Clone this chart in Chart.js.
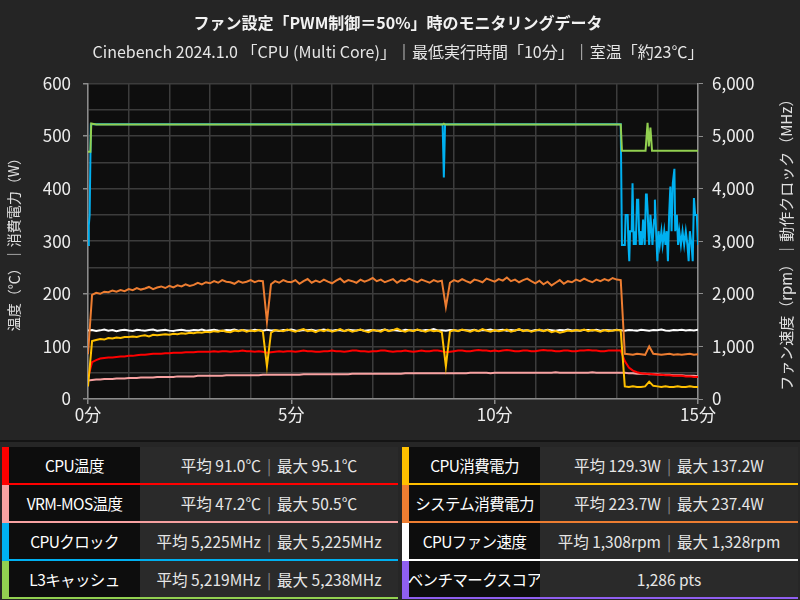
<!DOCTYPE html>
<html lang="ja">
<head>
<meta charset="utf-8">
<title>ファン設定「PWM制御＝50%」時のモニタリングデータ</title>
<script src="https://cdn.jsdelivr.net/npm/chart.js@4.4.1/dist/chart.umd.min.js"></script>
<style>
  html, body { margin: 0; padding: 0; background: #252525; }
  body { width: 800px; height: 600px; overflow: hidden; font-family: "Noto Sans CJK JP", "Noto Sans", sans-serif; }
  #chartBox { position: relative; width: 800px; height: 440px; }
  #stats { display: flex; width: 800px; height: 160px; box-sizing: border-box; border-top: 2px solid #141414; padding-top: 5px; background: #262626; }
  .col { width: 396px; margin-left: 2px; }
  .col + .col { margin-left: 4px; }
  .row { display: flex; height: 36px; border-left: 7px solid; border-bottom: 2px solid; }
  .name { width: 131px; background: #0d0d0d; color: #fff; font-size: 15.5px; letter-spacing: -0.6px; white-space: nowrap; display: flex; align-items: center; justify-content: center; }
  .value { flex: 1; background: #2a2a2a; color: #e6e6e6; font-size: 15.5px; white-space: nowrap; display: flex; align-items: center; justify-content: center; }
  .sep { color: #8a8a8a; margin: 0 6px; }
</style>
</head>
<body>
<div id="chartBox"><canvas id="monitorChart"></canvas></div>
<div id="stats"></div>
<script>
const chartTitle = "ファン設定「PWM制御＝50%」時のモニタリングデータ";
const chartSubtitle = "Cinebench 2024.1.0 「CPU (Multi Core)」｜最低実行時間「10分」｜室温「約23℃」";
const leftAxisTitle = "温度（℃）｜消費電力（W）";
const rightAxisTitle = "ファン速度（rpm）｜動作クロック（MHz）";

// log sampled every 0.1 min, 0 - 15 min
const sampleStepMin = 0.1;
const minutes = Array.from({ length: 151 }, (_, i) => +(i * sampleStepMin).toFixed(1));

const cpuTemp = [
  40, 70, 74, 77, 78, 79, 79, 80, 81, 81,
  82, 82, 83, 84, 84, 85, 86, 86, 86, 87,
  87, 88, 88, 88, 89, 89, 89, 90, 90, 90,
  90, 91, 90, 91, 91, 90, 91, 91, 92, 91,
  91, 90, 91, 90, 88, 89, 90, 91, 90, 91,
  91, 90, 91, 92, 91, 91, 90, 90, 91, 91,
  92, 91, 91, 90, 91, 92, 92, 91, 91, 90,
  91, 91, 92, 92, 91, 90, 91, 91, 92, 91,
  90, 91, 92, 91, 91, 92, 92, 91, 89, 90,
  91, 92, 92, 91, 91, 92, 93, 92, 92, 91,
  92, 91, 92, 93, 92, 91, 91, 92, 92, 91,
  91, 92, 93, 92, 92, 91, 91, 92, 92, 91,
  91, 92, 92, 93, 92, 92, 91, 91, 92, 92,
  92, 92, 72, 60, 54, 51, 49, 48, 48, 47,
  46, 46, 45, 45, 44, 44, 44, 43, 43, 42, 42
];

const vrmTemp = [
  35, 36, 37, 37, 38, 38, 38, 39, 39, 39,
  40, 40, 40, 41, 41, 41, 41, 42, 42, 42,
  42, 42, 43, 43, 43, 43, 43, 44, 44, 44,
  44, 44, 44, 44, 45, 45, 45, 45, 45, 45,
  45, 45, 45, 46, 46, 46, 46, 46, 46, 46,
  46, 46, 46, 47, 47, 47, 47, 47, 47, 47,
  47, 47, 47, 47, 47, 48, 48, 48, 48, 48,
  48, 48, 48, 48, 48, 48, 48, 48, 49, 49,
  49, 49, 49, 49, 49, 49, 49, 49, 49, 49,
  49, 49, 49, 49, 50, 50, 50, 50, 50, 49,
  50, 50, 50, 50, 50, 50, 50, 50, 50, 50,
  50, 50, 50, 50, 50, 51, 50, 50, 50, 50,
  50, 50, 50, 50, 51, 50, 50, 50, 50, 50,
  50, 50, 50, 49, 49, 48, 48, 48, 47, 47,
  47, 46, 46, 46, 45, 45, 45, 44, 44, 44, 43
];

const cpuPower = [
  24, 110, 112, 114, 113, 116, 115, 117, 116, 118,
  118, 119, 118, 120, 121, 119, 122, 121, 122, 123,
  122, 124, 123, 125, 124, 126, 125, 127, 126, 128,
  127, 129, 128, 130, 128, 127, 130, 129, 131, 128,
  130, 129, 131, 128, 62, 126, 131, 130, 129, 132,
  130, 128, 131, 133, 129, 130, 127, 131, 129, 132,
  128, 130, 133, 129, 131, 128, 130, 132, 129, 127,
  131, 130, 128, 132, 129, 131, 134, 130, 128, 131,
  129, 132, 130, 128, 131, 129, 130, 127, 62, 128,
  131, 129, 132, 130, 128, 131, 129, 133, 130, 128,
  131, 129, 130, 132, 128, 130, 133, 129, 131, 128,
  130, 132, 129, 131, 127, 129, 126, 128, 130, 129,
  131, 130, 132, 129, 131, 130, 128, 131, 129, 130,
  131, 130, 24, 23, 24, 23, 23, 24, 33, 25,
  24, 23, 24, 23, 23, 24, 23, 23, 24, 23, 23
];

const systemPower = [
  85, 198, 202, 200, 204, 203, 206, 204, 207, 205,
  209, 207, 211, 208, 210, 213, 209, 212, 214, 211,
  215, 212, 216, 214, 218, 215, 217, 221, 218, 222,
  220, 224, 221, 226, 223, 222, 219, 224, 221, 223,
  226, 222, 225, 224, 147, 218, 224, 221, 226, 223,
  222, 226, 219, 224, 228, 221, 225, 222, 227, 223,
  220, 225, 229, 222, 226, 224, 221, 227, 223, 226,
  230, 224, 227, 222, 225, 228, 221, 226, 224, 229,
  225, 222, 227, 224, 221, 226, 223, 225, 175, 221,
  226, 223, 228, 224, 221, 227, 225, 222, 229, 226,
  223, 228, 225, 231, 224, 227, 222, 226, 229, 224,
  220, 225, 218, 223, 216, 221, 226, 219, 224, 222,
  227, 224, 229, 225, 222, 227, 224, 228, 225, 230,
  227, 226, 86, 85, 84, 86, 85, 84, 100, 86,
  85, 84, 85, 86, 84, 85, 84, 85, 86, 84, 85
];

const fanRpm = [
  1300, 1310, 1295, 1305, 1320, 1298, 1312, 1290, 1308, 1316,
  1302, 1295, 1318, 1306, 1299, 1311, 1322, 1297, 1305, 1314,
  1300, 1292, 1309, 1317, 1303, 1296, 1313, 1305, 1320, 1298,
  1308, 1315, 1301, 1294, 1311, 1306, 1323, 1299, 1310, 1304,
  1296, 1314, 1307, 1300, 1318, 1302, 1309, 1293, 1312, 1305,
  1319, 1301, 1297, 1310, 1306, 1315, 1298, 1308, 1321, 1303,
  1300, 1311, 1305, 1295, 1316, 1309, 1302, 1318, 1297, 1307,
  1313, 1300, 1306, 1320, 1299, 1310, 1304, 1295, 1315, 1308,
  1302, 1317, 1298, 1311, 1306, 1328, 1301, 1309, 1296, 1312,
  1305, 1299, 1314, 1308, 1302, 1318, 1295, 1310, 1306, 1321,
  1300, 1309, 1315, 1297, 1311, 1304, 1319, 1302, 1308, 1295,
  1313, 1306, 1300, 1317, 1309, 1298, 1312, 1305, 1320, 1303,
  1307, 1296, 1314, 1310, 1301, 1316, 1299, 1311, 1306, 1302,
  1318, 1308, 1297, 1313, 1305, 1300, 1316, 1309, 1298, 1312,
  1306, 1320, 1303, 1299, 1311, 1307, 1315, 1301, 1310, 1304, 1317
];

// clock series are flat most of the time, so they keep their own time stamps
const cpuClockMin = [
  0, 0.02, 0.04, 0.07, 8.72, 8.75, 8.78, 13.1, 13.13,
  13.2, 13.22, 13.27, 13.29, 13.31, 13.33, 13.37, 13.39, 13.42, 13.44,
  13.47, 13.5, 13.53, 13.55, 13.57, 13.6, 13.62, 13.65, 13.69, 13.72,
  13.74, 13.76, 13.78, 13.8, 13.83, 13.86, 13.88, 13.92, 13.94, 13.97,
  14.0, 14.03, 14.06, 14.1, 14.13, 14.17, 14.2, 14.23, 14.26, 14.29,
  14.32, 14.35, 14.38, 14.42, 14.44, 14.48, 14.51, 14.54, 14.58, 14.62,
  14.66, 14.7, 14.74, 14.77, 14.8, 14.84, 14.87, 14.9, 14.93, 14.97, 15
];
const cpuClockMHz = [
  2930, 3300, 3500, 5225, 5225, 4210, 5225, 5225, 2930,
  2930, 3500, 3500, 2930, 2620, 3190, 3190, 4100, 2930, 3190,
  2930, 3790, 3790, 3190, 2930, 3190, 2930, 3410, 2930, 3890,
  3890, 3600, 3190, 2930, 3500, 3190, 2930, 3410, 3790, 3190,
  2620, 3190, 2930, 3190, 2930, 3190, 2930, 3190, 2620, 3500,
  4040, 3190, 4100, 4375, 3190, 3500, 2930, 3190, 2930, 3190,
  2930, 3190, 2930, 2620, 3190, 2930, 2620, 3820, 3500, 3500, 2930
];

const l3Min = [0, 0.06, 0.08, 0.2, 8.72, 8.75, 8.78, 13.1, 13.13, 13.71, 13.76, 13.79, 13.83, 13.87, 15];
const l3MHz = [4700, 4700, 5238, 5219, 5219, 5235, 5219, 5219, 4720, 4720, 5250, 4800, 5160, 4720, 4720];

const seriesNames = ["CPU温度", "VRM-MOS温度", "CPUクロック", "L3キャッシュ", "CPU消費電力", "システム消費電力", "CPUファン速度", "ベンチマークスコア"];
const seriesColors = ["#ff0000", "#f7a1a1", "#00b0f0", "#92d050", "#ffc000", "#ed7d31", "#ffffff", "#8f5ff0"];
const statAvg = ["91.0℃", "47.2℃", "5,225MHz", "5,219MHz", "129.3W", "223.7W", "1,308rpm"];
const statMax = ["95.1℃", "50.5℃", "5,225MHz", "5,238MHz", "137.2W", "237.4W", "1,328rpm"];
const benchmarkScore = "1,286 pts";

const fontFamily = '"Noto Sans CJK JP", "Noto Sans", sans-serif';
Chart.defaults.font.family = fontFamily;
Chart.defaults.color = "#ececec";

function onGrid(values) {
  return minutes.map((m, i) => ({ x: m, y: values[i] }));
}
function paired(times, values) {
  return times.map((m, i) => ({ x: m, y: values[i] }));
}

const plotBackground = {
  id: "plotBackground",
  beforeDraw(chart) {
    const { ctx, chartArea } = chart;
    ctx.save();
    ctx.fillStyle = "#0e0e0e";
    ctx.fillRect(chartArea.left, chartArea.top, chartArea.right - chartArea.left, chartArea.bottom - chartArea.top);
    ctx.restore();
  }
};

const axisTitles = {
  id: "axisTitles",
  afterDraw(chart) {
    const { ctx, chartArea } = chart;
    const midY = (chartArea.top + chartArea.bottom) / 2;
    ctx.save();
    ctx.fillStyle = "#e0e0e0";
    ctx.textAlign = "center";
    ctx.textBaseline = "middle";
    [[14, leftAxisTitle, 14], [chart.width - 14, rightAxisTitle, 15]].forEach(([x, text, size]) => {
      ctx.save();
      ctx.font = size + "px " + fontFamily;
      ctx.translate(x, midY);
      ctx.rotate(-Math.PI / 2);
      ctx.fillText(text, 0, 0);
      ctx.restore();
    });
    ctx.restore();
  }
};

function tickMark(step) {
  return c => (c.tick && c.tick.value % step === 0) ? "#8c8c8c" : "rgba(0,0,0,0)";
}

const ctx = document.getElementById("monitorChart").getContext("2d");
new Chart(ctx, {
  type: "line",
  data: {
    datasets: [
      { label: seriesNames[3], data: paired(l3Min, l3MHz), borderColor: seriesColors[3], yAxisID: "y1", order: 1 },
      { label: seriesNames[4], data: onGrid(cpuPower), borderColor: seriesColors[4], yAxisID: "y", order: 2 },
      { label: seriesNames[5], data: onGrid(systemPower), borderColor: seriesColors[5], yAxisID: "y", order: 3 },
      { label: seriesNames[0], data: onGrid(cpuTemp), borderColor: seriesColors[0], yAxisID: "y", order: 4 },
      { label: seriesNames[1], data: onGrid(vrmTemp), borderColor: seriesColors[1], yAxisID: "y", order: 5 },
      { label: seriesNames[6], data: onGrid(fanRpm), borderColor: seriesColors[6], yAxisID: "y1", order: 6 },
      { label: seriesNames[2], data: paired(cpuClockMin, cpuClockMHz), borderColor: seriesColors[2], yAxisID: "y1", order: 7 }
    ]
  },
  options: {
    responsive: true,
    maintainAspectRatio: false,
    animation: false,
    elements: {
      point: { radius: 0 },
      line: { borderWidth: 2, tension: 0 }
    },
    layout: { padding: { left: 26, right: 30, top: 0, bottom: 15 } },
    plugins: {
      legend: { display: false },
      tooltip: { enabled: false },
      title: {
        display: true,
        text: chartTitle,
        color: "#f2f2f2",
        font: { size: 16, weight: "bold" },
        padding: { top: 13, bottom: 4 }
      },
      subtitle: {
        display: true,
        text: chartSubtitle,
        color: "#e6e6e6",
        font: { size: 16 },
        padding: { top: 6, bottom: 22 }
      }
    },
    scales: {
      x: {
        type: "linear",
        min: 0,
        max: 15,
        ticks: {
          stepSize: 1,
          autoSkip: false,
          maxRotation: 0,
          padding: 0,
          font: { size: 17 },
          callback: v => v % 5 === 0 ? v + "分" : ""
        },
        grid: { color: "#3c3c3c", lineWidth: 1.5, tickLength: 5, tickColor: tickMark(5) },
        border: { color: "#8c8c8c", width: 1.5 },
        afterFit: s => { s.height = 26; }
      },
      y: {
        position: "left",
        min: 0,
        max: 600,
        ticks: {
          stepSize: 50,
          autoSkip: false,
          padding: 12,
          font: { size: 17 },
          callback: v => v % 100 === 0 ? v : ""
        },
        grid: { color: "#3c3c3c", lineWidth: 1.5, tickLength: 5, tickColor: tickMark(100) },
        border: { color: "#8c8c8c", width: 1.5 },
        afterFit: s => { s.width = 62; }
      },
      y1: {
        position: "right",
        min: 0,
        max: 6000,
        ticks: {
          stepSize: 500,
          autoSkip: false,
          padding: 9,
          font: { size: 17 },
          callback: v => v % 1000 === 0 ? v.toLocaleString("en-US") : ""
        },
        grid: { drawOnChartArea: false, tickLength: 5, tickColor: tickMark(1000) },
        border: { color: "#8c8c8c", width: 1.5 },
        afterFit: s => { s.width = 72; }
      }
    }
  },
  plugins: [plotBackground, axisTitles]
});

// stats table under the chart: left column rows 0-3, right column rows 4-7
const stats = document.getElementById("stats");
[[0, 1, 2, 3], [4, 5, 6, 7]].forEach(rows => {
  const col = document.createElement("div");
  col.className = "col";
  rows.forEach(i => {
    const row = document.createElement("div");
    row.className = "row";
    row.style.borderColor = seriesColors[i];
    const name = document.createElement("div");
    name.className = "name";
    name.textContent = seriesNames[i];
    const value = document.createElement("div");
    value.className = "value";
    if (i < statAvg.length) {
      value.innerHTML = "平均 " + statAvg[i] + '<span class="sep">|</span>最大 ' + statMax[i];
    } else {
      value.textContent = benchmarkScore;
    }
    row.appendChild(name);
    row.appendChild(value);
    col.appendChild(row);
  });
  stats.appendChild(col);
});
</script>
</body>
</html>
